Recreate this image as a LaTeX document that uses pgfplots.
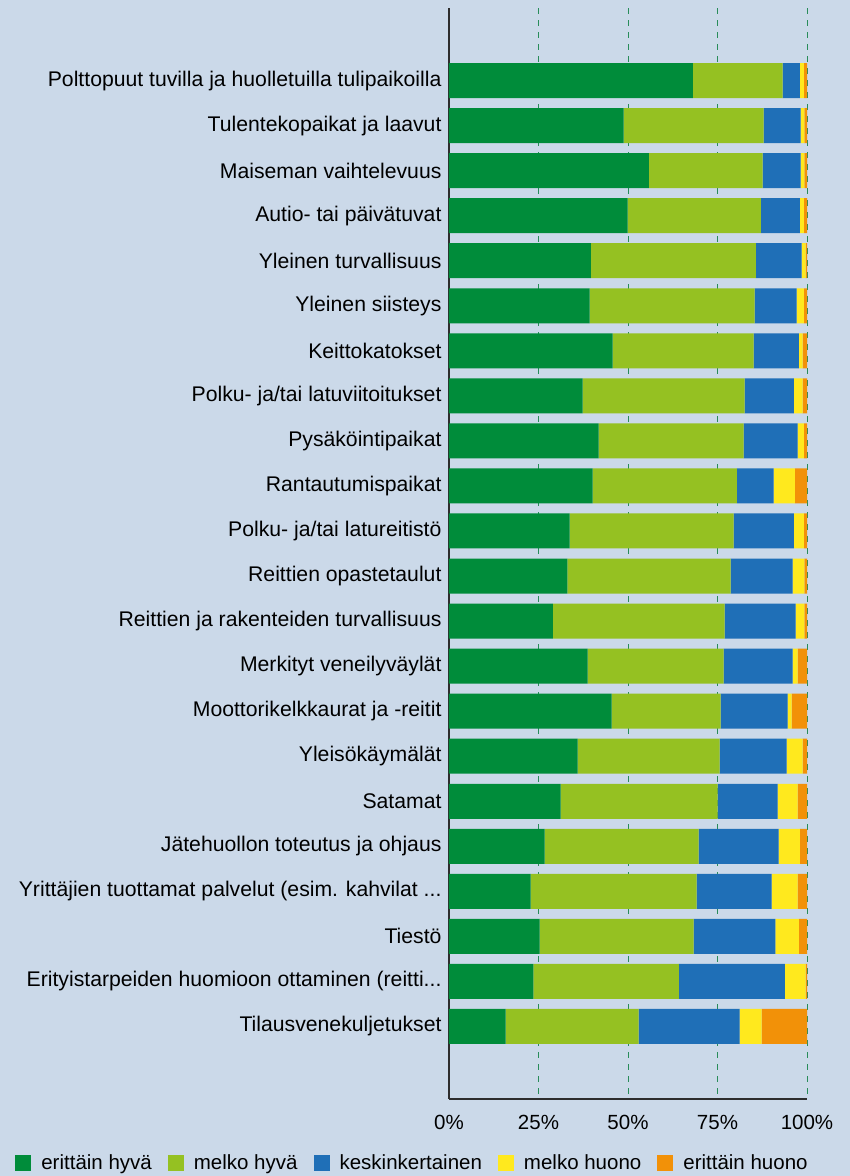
\documentclass[border=0pt]{standalone}
\usepackage{pgfplots}
\usepackage{pgfplotstable}
\pgfplotsset{compat=1.18}
\usepackage{fontspec}
\setmainfont{Liberation Sans}
\newcommand\tdots{.\kern0pt.\kern0pt.}
\definecolor{bg}{RGB}{203,217,233}
\definecolor{c1}{RGB}{0,140,58}
\definecolor{c2}{RGB}{149,193,34}
\definecolor{c3}{RGB}{31,111,183}
\definecolor{c4}{RGB}{255,233,30}
\definecolor{c5}{RGB}{242,145,8}
\definecolor{gridc}{RGB}{40,140,90}
\definecolor{axc}{RGB}{45,45,45}
\pgfplotstableread{
idx a b c d e
0 68.1 25.1 4.8 1.1 0.9
1 48.8 39.1 10.3 1.1 0.7
2 55.8 31.8 10.6 1.1 0.7
3 49.9 37.2 10.9 1.1 0.9
4 39.6 46.1 12.8 1.1 0.4
5 39.3 46.1 11.7 2.0 0.9
6 45.7 39.4 12.6 1.1 1.2
7 37.3 45.3 13.7 2.5 1.2
8 41.8 40.5 15.1 1.7 0.9
9 40.1 40.3 10.3 5.9 3.4
10 33.7 45.8 16.8 2.8 0.9
11 33.1 45.6 17.3 3.3 0.7
12 29.0 48.0 19.8 2.5 0.7
13 38.7 38.0 19.3 1.4 2.6
14 45.4 30.5 18.7 1.1 4.3
15 35.9 39.7 18.7 4.5 1.2
16 31.2 43.8 16.8 5.6 2.6
17 26.7 43.0 22.4 5.9 2.0
18 22.8 46.4 20.9 7.3 2.6
19 25.3 43.0 22.9 6.5 2.3
20 23.6 40.6 29.6 5.8 0.4
21 15.8 37.2 28.2 6.1 12.7
}\datatable
\begin{document}
\begin{tikzpicture}
\path[use as bounding box, fill=bg] (0,0) rectangle (850pt,1176pt);
\begin{axis}[
  at={(449pt,77pt)}, anchor=south west,
  scale only axis, width=358pt, height=1091pt,
  xbar stacked, bar width=0.777,
  y dir=reverse,
  xmin=0, xmax=100, ymin=-1.61, ymax=22.61,
  axis x line*=bottom, axis y line*=left,
  axis line style={-, draw=axc, line width=1.6pt},
  xtick={0,25,50,75,100},
  xticklabels={0\%,25\%,50\%,75\%,100\%},
  ytick={0,1,2,3,4,5,6,7,8,9,10,11,12,13,14,15,16,17,18,19,20,21},
  yticklabels={
    Polttopuut tuvilla ja huolletuilla tulipaikoilla,
    Tulentekopaikat ja laavut,
    Maiseman vaihtelevuus,
    Autio- tai päivätuvat,
    Yleinen turvallisuus,
    Yleinen siisteys,
    Keittokatokset,
    Polku- ja/tai latuviitoitukset,
    Pysäköintipaikat,
    Rantautumispaikat,
    Polku- ja/tai latureitistö,
    Reittien opastetaulut,
    Reittien ja rakenteiden turvallisuus,
    Merkityt veneilyväylät,
    Moottorikelkkaurat ja -reitit,
    Yleisökäymälät,
    Satamat,
    Jätehuollon toteutus ja ohjaus,
    {Yrittäjien tuottamat palvelut (esim. kahvilat \tdots},
    Tiestö,
    {Erityistarpeiden huomioon ottaminen (reitti\tdots},
    Tilausvenekuljetukset},
  major tick length=0pt,
  tick label style={font=\fontsize{20.5pt}{24pt}\selectfont, text=black},
  yticklabel style={anchor=east, xshift=-4pt, font=\fontsize{21.2pt}{24pt}\selectfont},
  xticklabel style={anchor=north, yshift=-13pt},
  xmajorgrids,
  major grid style={gridc, dashed, dash pattern=on 6pt off 6pt, line width=1pt},
  legend columns=-1,
  legend style={at={(-0.102,-0.0587)}, anchor=center, draw=none, fill=none,
    font=\fontsize{20.5pt}{24pt}\selectfont,
    /tikz/every odd column/.append style={column sep=8pt},
    /tikz/every even column/.append style={column sep=14pt},
    nodes={inner sep=2pt}},
  legend image code/.code={\fill[#1] (0pt,-8pt) rectangle (16pt,8pt);},
]
\addplot[fill=c1, draw=none] table[x=a, y=idx] {\datatable};
\addplot[fill=c2, draw=none] table[x=b, y=idx] {\datatable};
\addplot[fill=c3, draw=none] table[x=c, y=idx] {\datatable};
\addplot[fill=c4, draw=none] table[x=d, y=idx] {\datatable};
\addplot[fill=c5, draw=none] table[x=e, y=idx] {\datatable};
\legend{erittäin hyvä, melko hyvä, keskinkertainen, melko huono, erittäin huono}
\end{axis}
\end{tikzpicture}
\end{document}
